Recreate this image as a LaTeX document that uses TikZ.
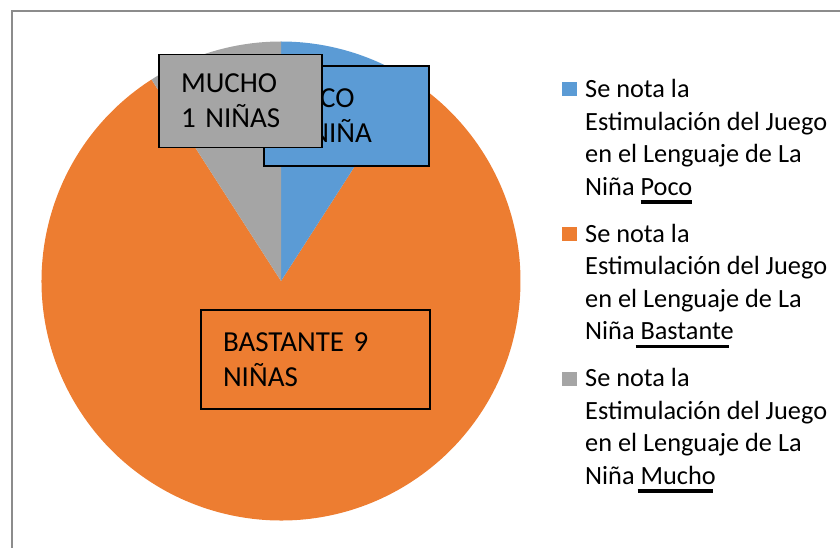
\documentclass[tikz,border=0pt]{standalone}
\usepackage{fontspec}
\setmainfont{Carlito}
\definecolor{pieblue}{HTML}{5B9BD5}
\definecolor{pieorange}{HTML}{ED7D31}
\definecolor{piegray}{HTML}{A5A5A5}
\definecolor{framegray}{HTML}{8C8C8C}
\newcommand{\ulword}[2][0pt]{\setbox0\hbox{#2}\rlap{\kern#1\rule[-8.4pt]{\wd0}{3.2pt}}\box0}
\begin{document}
\begin{tikzpicture}[x=1pt,y=1pt,
    lbl/.style={draw=black,line width=1.3pt,inner xsep=22pt,inner ysep=0pt,align=left,font=\fontsize{29}{35}\selectfont},
    legtxt/.style={anchor=north west,inner sep=0pt,align=left,font=\fontsize{26.3}{32.5}\selectfont},
    legsq/.style={minimum width=15pt,minimum height=14pt,inner sep=0pt}]
        \useasboundingbox (0,0) rectangle (840,-548);
        \draw[framegray,line width=2.2] (840,-10.8)--(12.3,-10.8)--(12.3,-548);
        % pie
        \coordinate (c) at (281,-281);
        \fill[pieorange] (c)--++(122.73:239.5) arc[start angle=122.73,end angle=417.27,radius=239.5]--cycle;
        \fill[pieblue] (c)--++(90:239.5) arc[start angle=90,end angle=57.27,radius=239.5]--cycle;
        \fill[piegray] (c)--++(90:239.5) arc[start angle=90,end angle=122.73,radius=239.5]--cycle;
        % data labels
        \node[lbl,fill=pieblue,text width=121pt,minimum height=100pt] (poco) at (346.5,-116) {POCO\\1 NIÑA};
        \node[lbl,fill=piegray,text width=119pt,minimum height=93pt] (mucho) at (240.5,-100.7) {MUCHO\\1 NIÑAS};
        \node[lbl,fill=pieorange,text width=185pt,minimum height=99pt] (bastante) at (315.5,-359.5) {BASTANTE 9\\NIÑAS};
        % legend
        \node[legsq,fill=pieblue] (sqpoco) at (569.8,-88.7) {};
        \node[legtxt] (legpoco) at (585,-74.8) {\strut Se nota la\\Estimulación del Juego\\en el Lenguaje de La\\Niña \ulword{Poco}};
        \node[legsq,fill=pieorange] (sqbastante) at (569.8,-233.5) {};
        \node[legtxt] (legbastante) at (585,-219.3) {\strut Se nota la\\Estimulación del Juego\\en el Lenguaje de La\\Niña \ulword[-5pt]{Bastante}};
        \node[legsq,fill=piegray] (sqmucho) at (569.8,-378.7) {};
        \node[legtxt] (legmucho) at (585,-363.8) {\strut Se nota la\\Estimulación del Juego\\en el Lenguaje de La\\Niña \ulword[-3pt]{Mucho}};
    \end{tikzpicture}
\end{document}
